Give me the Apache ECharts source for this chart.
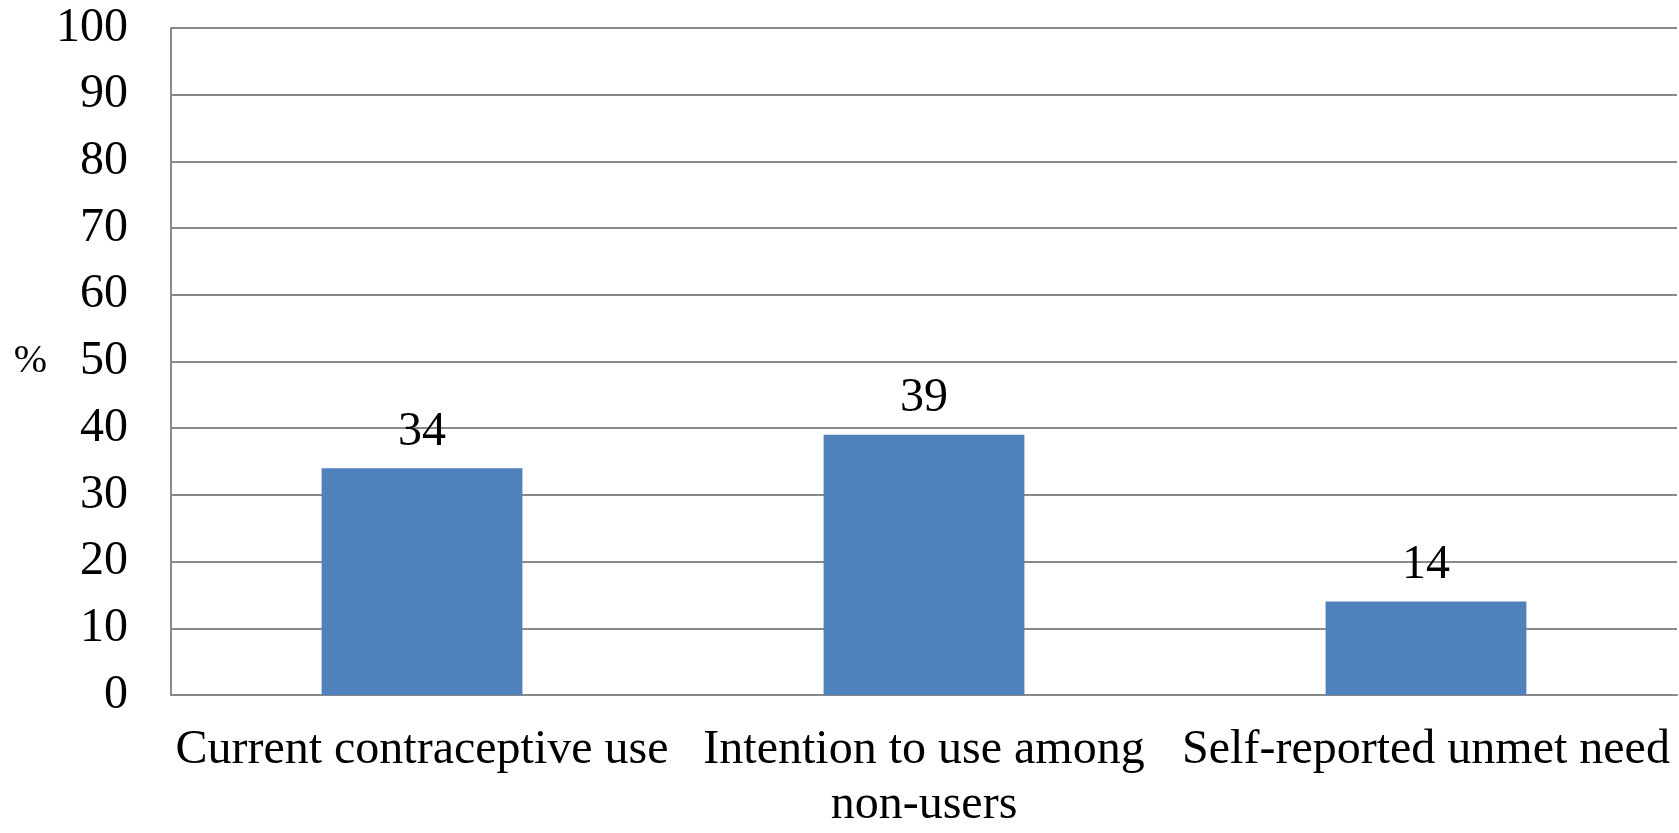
<!DOCTYPE html>
<html>
<head>
<meta charset="utf-8">
<script src="https://cdn.jsdelivr.net/npm/echarts@6/dist/echarts.min.js"></script>
<style>
  html, body { margin: 0; padding: 0; background: #fff; }
  #chart { width: 1679px; height: 833px; }
</style>
</head>
<body>
<div id="chart"></div>
<script>
// Contraceptive indicators, percent of respondents
const categories = ['Current contraceptive use', 'Intention to use among\nnon-users', 'Self-reported unmet need'];
const percentValues = [34, 39, 14];
const yTicks = { min: 0, max: 100, interval: 10 };

const serif = '"Liberation Serif", "Times New Roman", serif';
const gridGray = '#898989';

const chart = echarts.init(document.getElementById('chart'));
chart.setOption({
  animation: false,
  grid: { left: 171, right: 2, top: 28, bottom: 130, containLabel: false },
  xAxis: {
    type: 'category',
    data: categories,
    axisLine: { show: true, lineStyle: { color: gridGray, width: 2 } },
    axisTick: { show: false },
    axisLabel: {
      color: '#000', fontFamily: serif, fontSize: 48, lineHeight: 55,
      margin: 28, interval: 0
    }
  },
  yAxis: {
    type: 'value',
    min: yTicks.min, max: yTicks.max, interval: yTicks.interval,
    name: '%',
    nameLocation: 'middle',
    nameRotate: 0,
    nameGap: 124,
    nameTextStyle: { color: '#000', fontFamily: serif, fontSize: 40, padding: [0, 0, 20, 0] },
    axisLine: { show: true, lineStyle: { color: gridGray, width: 2 } },
    axisTick: { show: false },
    splitLine: { show: true, lineStyle: { color: gridGray, width: 2 } },
    axisLabel: { color: '#000', fontFamily: serif, fontSize: 48, margin: 43 }
  },
  series: [{
    type: 'bar',
    data: percentValues,
    barWidth: '40%',
    itemStyle: { color: '#4F81BD' },
    label: {
      show: true, position: 'top', distance: 12,
      color: '#000', fontFamily: serif, fontSize: 48
    }
  }]
});
</script>
</body>
</html>
